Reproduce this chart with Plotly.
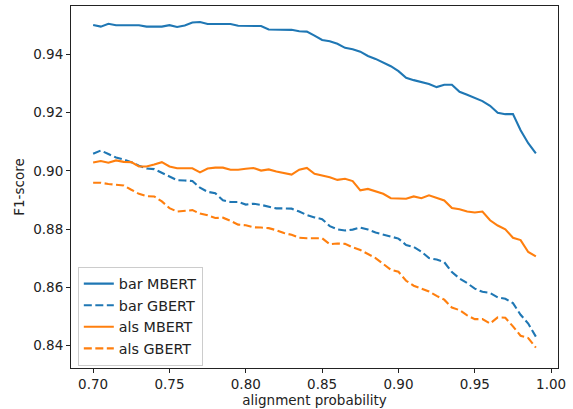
import plotly.graph_objects as go

x_vals = [round(0.70 + 0.005 * i, 3) for i in range(59)]

bar_mbert = [0.9502, 0.9496, 0.9506, 0.9501, 0.9501, 0.9501, 0.9501, 0.9496, 0.9496, 0.9496,
             0.9501, 0.9495, 0.9500, 0.9510, 0.9512, 0.9505, 0.9505, 0.9505, 0.9505, 0.9499,
             0.9499, 0.9499, 0.9498, 0.9486, 0.9485, 0.9485, 0.9485, 0.9480, 0.9479, 0.9465,
             0.9450, 0.9446, 0.9437, 0.9423, 0.9418, 0.9410, 0.9395, 0.9385, 0.9372, 0.9360,
             0.9343, 0.9320, 0.9312, 0.9305, 0.9299, 0.9288, 0.9296, 0.9296, 0.9272, 0.9262,
             0.9252, 0.9240, 0.9224, 0.9200, 0.9195, 0.9195, 0.9140, 0.9095, 0.9060]

bar_gbert = [0.9059, 0.9070, 0.9058, 0.9046, 0.9039, 0.9030, 0.9018, 0.9008, 0.9006, 0.8994,
             0.8982, 0.8968, 0.8967, 0.8965, 0.8942, 0.8928, 0.8923, 0.8899, 0.8893, 0.8893,
             0.8884, 0.8887, 0.8883, 0.8877, 0.8871, 0.8871, 0.8870, 0.8860, 0.8848, 0.8840,
             0.8834, 0.8810, 0.8799, 0.8795, 0.8798, 0.8805, 0.8798, 0.8788, 0.8781, 0.8776,
             0.8767, 0.8745, 0.8738, 0.8722, 0.8700, 0.8695, 0.8686, 0.8652, 0.8630, 0.8614,
             0.8595, 0.8584, 0.8580, 0.8565, 0.8560, 0.8545, 0.8505, 0.8475, 0.8430]

als_mbert = [0.9029, 0.9034, 0.9028, 0.9036, 0.9031, 0.9030, 0.9015, 0.9015, 0.9022, 0.9030,
             0.9015, 0.9009, 0.9009, 0.9009, 0.8995, 0.9008, 0.9011, 0.9011, 0.9004, 0.9004,
             0.9007, 0.9010, 0.9001, 0.9005, 0.8998, 0.8993, 0.8987, 0.9004, 0.9010, 0.8990,
             0.8984, 0.8978, 0.8969, 0.8973, 0.8965, 0.8933, 0.8938, 0.8930, 0.8921, 0.8906,
             0.8906, 0.8904, 0.8912, 0.8906, 0.8916, 0.8907, 0.8898, 0.8872, 0.8868, 0.8860,
             0.8857, 0.8860, 0.8830, 0.8812, 0.8799, 0.8770, 0.8762, 0.8721, 0.8706]

als_gbert = [0.8959, 0.8959, 0.8955, 0.8953, 0.8950, 0.8935, 0.8921, 0.8913, 0.8912, 0.8895,
             0.8872, 0.8860, 0.8862, 0.8865, 0.8853, 0.8847, 0.8838, 0.8839, 0.8828, 0.8815,
             0.8813, 0.8806, 0.8805, 0.8803, 0.8796, 0.8786, 0.8780, 0.8770, 0.8768, 0.8767,
             0.8768, 0.8748, 0.8750, 0.8749, 0.8737, 0.8728, 0.8715, 0.8700, 0.8680, 0.8660,
             0.8653, 0.8622, 0.8605, 0.8595, 0.8585, 0.8570, 0.8557, 0.8530, 0.8521, 0.8503,
             0.8490, 0.8490, 0.8475, 0.8496, 0.8495, 0.8465, 0.8433, 0.8425, 0.8392]

x_ticks = [0.70, 0.75, 0.80, 0.85, 0.90, 0.95, 1.00]
y_ticks = [0.84, 0.86, 0.88, 0.90, 0.92, 0.94]

BLUE = "#1f77b4"
ORANGE = "#ff7f0e"

series = [
    ("bar MBERT", bar_mbert, BLUE, "solid"),
    ("bar GBERT", bar_gbert, BLUE, "8px,3.5px"),
    ("als MBERT", als_mbert, ORANGE, "solid"),
    ("als GBERT", als_gbert, ORANGE, "8px,3.5px"),
]

fig = go.Figure()
for name, vals, color, dash in series:
    fig.add_trace(go.Scatter(x=x_vals, y=vals, mode="lines", name=name,
                             line=dict(color=color, width=2.1, dash=dash)))

font = dict(family="DejaVu Sans", size=13.5, color="#222222")
axis_common = dict(showgrid=False, zeroline=False, showline=True, linecolor="#222222",
                   linewidth=1, mirror=True, ticks="outside", ticklen=4, tickwidth=1,
                   tickcolor="#222222", tickfont=font)

fig.update_layout(
    width=573, height=409,
    margin=dict(l=71, r=15, t=5, b=39),
    paper_bgcolor="white", plot_bgcolor="white",
    font=font,
    xaxis=dict(range=[0.6855, 1.0045], tickvals=x_ticks,
               ticktext=[f"{v:.2f}" for v in x_ticks],
               title=dict(text="alignment probability", font=font, standoff=2),
               **axis_common),
    yaxis=dict(range=[0.8322, 0.9567], tickvals=y_ticks,
               ticktext=[f"{v:.2f}" for v in y_ticks],
               title=dict(text="F1-score", font=font, standoff=5),
               **axis_common),
    legend=dict(x=0.014, y=0.006, xanchor="left", yanchor="bottom",
                bgcolor="rgba(255,255,255,0.8)", bordercolor="#cccccc", borderwidth=1,
                font=dict(family="DejaVu Sans", size=14.3, color="#222222"),
                tracegroupgap=0, itemwidth=30),
    showlegend=True,
)

fig.write_html("out.html", config={"displayModeBar": False},
               post_script="document.body.style.margin='0';document.body.style.padding='0';")
